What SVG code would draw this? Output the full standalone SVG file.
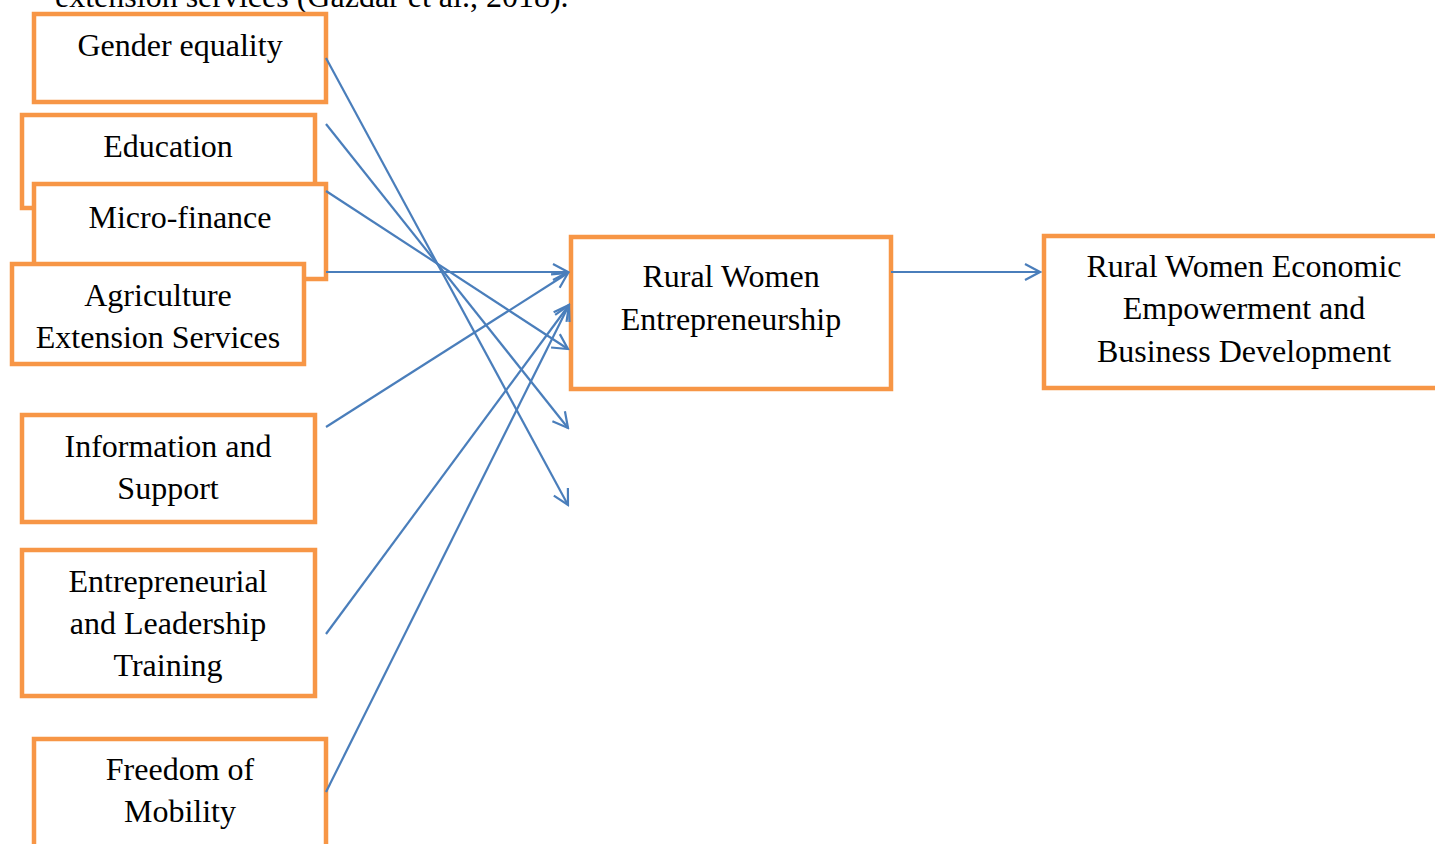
<svg xmlns="http://www.w3.org/2000/svg" width="1435" height="844" viewBox="0 0 1435 844">
<style>
.box{fill:#fff;stroke:#f79646;stroke-width:4.5}
.t{font-family:"Liberation Serif","Times New Roman",serif;font-size:32px;fill:#000;text-anchor:middle}
.c{stroke:#4a7ebb;stroke-width:2.2;fill:none}
</style>
<defs>
<marker id="arr" viewBox="-17 -10 19 20" refX="0" refY="0" markerWidth="19" markerHeight="20" orient="auto" markerUnits="userSpaceOnUse">
<path d="M-15,-8 L0,0 L-15,8" fill="none" stroke="#4a7ebb" stroke-width="2.2"/>
</marker>
</defs>
<rect width="1435" height="844" fill="#fff"/>
<text class="t" x="55" y="7" style="text-anchor:start">extension services (Gazdar et al., 2018).</text>
<g id="gender"><rect class="box" x="34" y="14" width="292" height="88"/><text class="t" x="180" y="56">Gender equality</text></g>
<g id="education"><rect class="box" x="22" y="115" width="293" height="93"/><text class="t" x="168" y="157">Education</text></g>
<g id="microfinance"><rect class="box" x="34" y="184" width="292" height="95"/><text class="t" x="180" y="228">Micro-finance</text></g>
<g id="agriculture"><rect class="box" x="12" y="264" width="292" height="100"/><text class="t" x="158" y="306">Agriculture</text><text class="t" x="158" y="348">Extension Services</text></g>
<g id="information"><rect class="box" x="22" y="415" width="293" height="107"/><text class="t" x="168" y="457">Information and</text><text class="t" x="168" y="499">Support</text></g>
<g id="training"><rect class="box" x="22" y="550" width="293" height="146"/><text class="t" x="168" y="592">Entrepreneurial</text><text class="t" x="168" y="634">and Leadership</text><text class="t" x="168" y="676">Training</text></g>
<g id="mobility"><rect class="box" x="34" y="739" width="292" height="115"/><text class="t" x="180" y="780">Freedom of</text><text class="t" x="180" y="822">Mobility</text></g>
<g id="rwe"><rect class="box" x="571" y="237" width="320" height="152"/><text class="t" x="731" y="287">Rural Women</text><text class="t" x="731" y="330">Entrepreneurship</text></g>
<g id="empowerment"><rect class="box" x="1044" y="236" width="400" height="152"/><text class="t" x="1244" y="277">Rural Women Economic</text><text class="t" x="1244" y="319">Empowerment and</text><text class="t" x="1244" y="362">Business Development</text></g>
<g id="connectors">
<line class="c" x1="326" y1="58" x2="568" y2="505" marker-end="url(#arr)"/>
<line class="c" x1="326" y1="124" x2="568" y2="428" marker-end="url(#arr)"/>
<line class="c" x1="326" y1="191" x2="568" y2="349" marker-end="url(#arr)"/>
<line class="c" x1="326" y1="272" x2="568" y2="272" marker-end="url(#arr)"/>
<line class="c" x1="326" y1="427" x2="568" y2="273" marker-end="url(#arr)"/>
<line class="c" x1="326" y1="634" x2="569" y2="305" marker-end="url(#arr)"/>
<line class="c" x1="326" y1="792" x2="569" y2="305" marker-end="url(#arr)"/>
<line class="c" x1="891" y1="272" x2="1040" y2="272" marker-end="url(#arr)"/>
</g>
</svg>
